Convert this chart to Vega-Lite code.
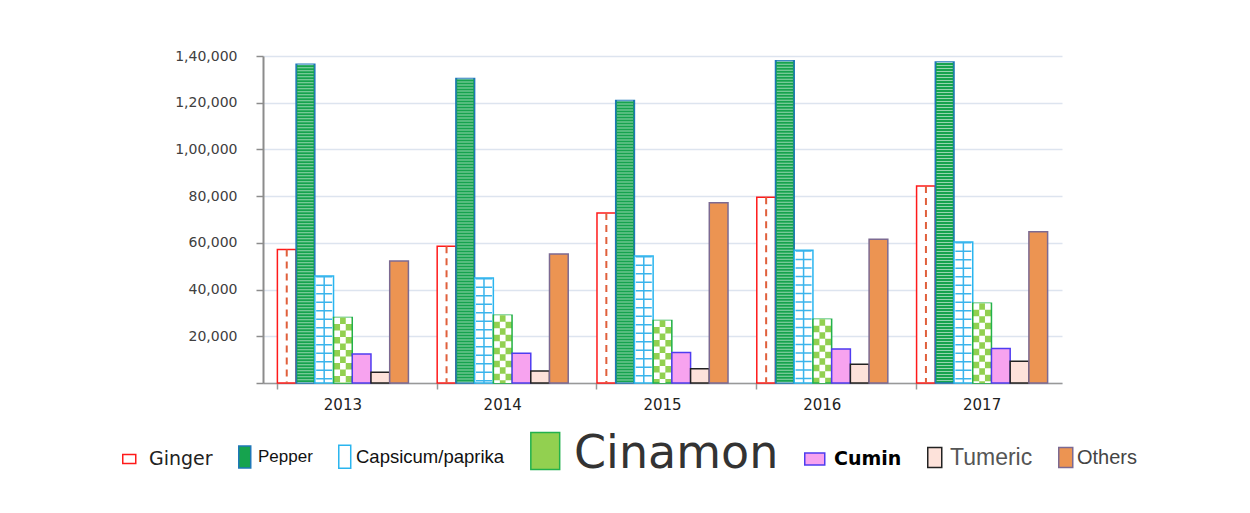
{
  "$schema": "https://vega.github.io/schema/vega-lite/v6.json",
  "width": 799,
  "height": 327,
  "autosize": {"type": "none"},
  "padding": {"left": 263, "top": 56, "right": 188, "bottom": 130},
  "background": "#ffffff",
  "data": {
    "values": [
      {"year": "2013", "series": "Ginger", "value": 57200},
      {"year": "2013", "series": "Pepper", "value": 136500},
      {"year": "2013", "series": "Capsicum/paprika", "value": 45800},
      {"year": "2013", "series": "Cinamon", "value": 28000},
      {"year": "2013", "series": "Cumin", "value": 12400},
      {"year": "2013", "series": "Tumeric", "value": 4600},
      {"year": "2013", "series": "Others", "value": 52200},
      {"year": "2014", "series": "Ginger", "value": 58500},
      {"year": "2014", "series": "Pepper", "value": 130400},
      {"year": "2014", "series": "Capsicum/paprika", "value": 45000},
      {"year": "2014", "series": "Cinamon", "value": 29000},
      {"year": "2014", "series": "Cumin", "value": 12700},
      {"year": "2014", "series": "Tumeric", "value": 5100},
      {"year": "2014", "series": "Others", "value": 55200},
      {"year": "2015", "series": "Ginger", "value": 72800},
      {"year": "2015", "series": "Pepper", "value": 120900},
      {"year": "2015", "series": "Capsicum/paprika", "value": 54400},
      {"year": "2015", "series": "Cinamon", "value": 26800},
      {"year": "2015", "series": "Cumin", "value": 13100},
      {"year": "2015", "series": "Tumeric", "value": 6100},
      {"year": "2015", "series": "Others", "value": 77200},
      {"year": "2016", "series": "Ginger", "value": 79500},
      {"year": "2016", "series": "Pepper", "value": 138000},
      {"year": "2016", "series": "Capsicum/paprika", "value": 56800},
      {"year": "2016", "series": "Cinamon", "value": 27300},
      {"year": "2016", "series": "Cumin", "value": 14600},
      {"year": "2016", "series": "Tumeric", "value": 8000},
      {"year": "2016", "series": "Others", "value": 61500},
      {"year": "2017", "series": "Ginger", "value": 84300},
      {"year": "2017", "series": "Pepper", "value": 137400},
      {"year": "2017", "series": "Capsicum/paprika", "value": 60400},
      {"year": "2017", "series": "Cinamon", "value": 34100},
      {"year": "2017", "series": "Cumin", "value": 14800},
      {"year": "2017", "series": "Tumeric", "value": 9300},
      {"year": "2017", "series": "Others", "value": 64800}
    ]
  },
  "encoding": {
    "x": {
      "field": "year", "type": "nominal",
      "scale": {"paddingInner": 0.18, "paddingOuter": 0.09},
      "axis": {
        "title": null, "labelAngle": 0, "bandPosition": 0, "grid": false,
        "domainColor": "#999999", "domainWidth": 1.5, "tickColor": "#999999", "tickWidth": 1.5, "tickSize": 6,
        "labelFont": "DejaVu Sans", "labelFontSize": 15, "labelColor": "#222222", "labelPadding": 8
      }
    },
    "xOffset": {
      "field": "series", "type": "nominal",
      "scale": {"domain": ["Ginger", "Pepper", "Capsicum/paprika", "Cinamon", "Cumin", "Tumeric", "Others"], "paddingInner": 0, "paddingOuter": 0}
    },
    "y": {
      "field": "value", "type": "quantitative",
      "scale": {"domain": [0, 140000], "nice": false},
      "axis": {
        "title": null, "values": [0, 20000, 40000, 60000, 80000, 100000, 120000, 140000],
        "labelExpr": "datum.value == 0 ? '' : datum.value >= 100000 ? '1,' + format((datum.value - 100000) / 1000, '02d') + ',000' : format(datum.value, ',')",
        "domainColor": "#8c8c8c", "domainWidth": 2, "tickColor": "#8c8c8c", "tickWidth": 1.5, "tickSize": 7,
        "gridColor": "#dde4ef", "gridWidth": 1.5,
        "labelFont": "DejaVu Sans", "labelFontSize": 14, "labelColor": "#404040", "labelPadding": 19
      }
    }
  },
  "layer": [
    {
      "mark": {"type": "bar", "strokeWidth": 1.5},
      "encoding": {
        "fill": {
          "field": "series", "type": "nominal",
          "scale": {
            "domain": ["Ginger", "Pepper", "Capsicum/paprika", "Cinamon", "Cumin", "Tumeric", "Others"],
            "range": ["#ffffff", "#16a34e", "#ffffff", "#92d050", "#f7a3ef", "#fde2da", "#ec9452"]
          },
          "legend": {
            "title": null, "orient": "none", "legendX": -141, "legendY": 395, "direction": "horizontal",
            "padding": 0, "columnPadding": 22, "symbolSize": 100, "symbolStrokeWidth": 1.5, "symbolOpacity": 1,
            "labelFont": "DejaVu Sans", "labelFontSize": 14, "labelLimit": 0,
            "encode": {
              "symbols": {
                "update": {
                  "shape": {"signal": "['M-1,-0.69H1V0.69H-1Z','M-0.545,-1H0.545V1H-0.545Z','M-0.52,-1H0.52V1H-0.52Z','M-0.78,-1H0.78V1H-0.78Z','M-1,-0.6H1V0.6H-1Z','M-0.7,-1H0.7V1H-0.7Z','M-0.7,-1H0.7V1H-0.7Z'][datum.index]"},
                  "size": {"signal": "[169,484,529,1369,400,400,400][datum.index]"},
                  "x": {"signal": "[7.25,6.75,6.75,15.25,10.75,7.75,7.75][datum.index]"}
                }
              },
              "labels": {
                "update": {
                  "x": {"signal": "[27,20,18,44,30,23,19][datum.index]"},
                  "dy": {"signal": "[0,0,0,3,0,0,0][datum.index]"},
                  "font": {"signal": "['DejaVu Sans','Liberation Sans','Liberation Sans','DejaVu Sans','DejaVu Sans','Liberation Sans','Liberation Sans'][datum.index]"},
                  "fontSize": {"signal": "[19,17,18.5,46,19,23,20][datum.index]"},
                  "fontWeight": {"signal": "['normal','normal','normal','normal','bold','normal','normal'][datum.index]"},
                  "fill": {"signal": "['#222222','#111111','#111111','#333333','#000000','#555555','#444444'][datum.index]"}
                }
              }
            }
          }
        },
        "stroke": {
          "field": "series", "type": "nominal",
          "scale": {
            "domain": ["Ginger", "Pepper", "Capsicum/paprika", "Cinamon", "Cumin", "Tumeric", "Others"],
            "range": ["#ff1a1a", "#1f78b8", "#2ab5ef", "#22b14c", "#4f3cf0", "#222222", "#7c6a92"]
          }
        }
      }
    },
    {
      "transform": [{"filter": "datum.series == 'Ginger'"}],
      "mark": {"type": "rule", "color": "#e0603c", "strokeWidth": 2, "strokeDash": [7, 5]},
      "encoding": {"y2": {"datum": 0}}
    },
    {
      "transform": [{"filter": "datum.series == 'Pepper'"}],
      "mark": {"type": "rule", "color": "#ffffff", "opacity": 0.55, "strokeWidth": 16, "strokeDash": [1, 2]},
      "encoding": {"y2": {"datum": 0}}
    },
    {
      "transform": [{"filter": "datum.series == 'Capsicum/paprika'"}],
      "mark": {"type": "rule", "color": "#3ab4ec", "strokeWidth": 16, "strokeDash": [1.5, 7]},
      "encoding": {"y2": {"datum": 0}}
    },
    {
      "transform": [{"filter": "datum.series == 'Capsicum/paprika'"}],
      "mark": {"type": "rule", "color": "#3ab4ec", "strokeWidth": 1.5},
      "encoding": {"y2": {"datum": 0}}
    },
    {
      "transform": [{"filter": "datum.series == 'Cinamon'"}],
      "mark": {"type": "rule", "color": "#ffffff", "strokeWidth": 17, "strokeDash": [6.5, 6.5]},
      "encoding": {"y2": {"datum": 0}}
    },
    {
      "transform": [{"filter": "datum.series == 'Cinamon'"}],
      "mark": {"type": "rule", "color": "#92d050", "strokeWidth": 5.7},
      "encoding": {"y2": {"datum": 0}}
    },
    {
      "transform": [{"filter": "datum.series == 'Cinamon'"}],
      "mark": {"type": "rule", "color": "#ffffff", "strokeWidth": 5.7, "strokeDash": [6.5, 6.5], "strokeDashOffset": 6.5},
      "encoding": {"y2": {"datum": 0}}
    }
  ],
  "config": {
    "view": {"stroke": null}
  }
}
